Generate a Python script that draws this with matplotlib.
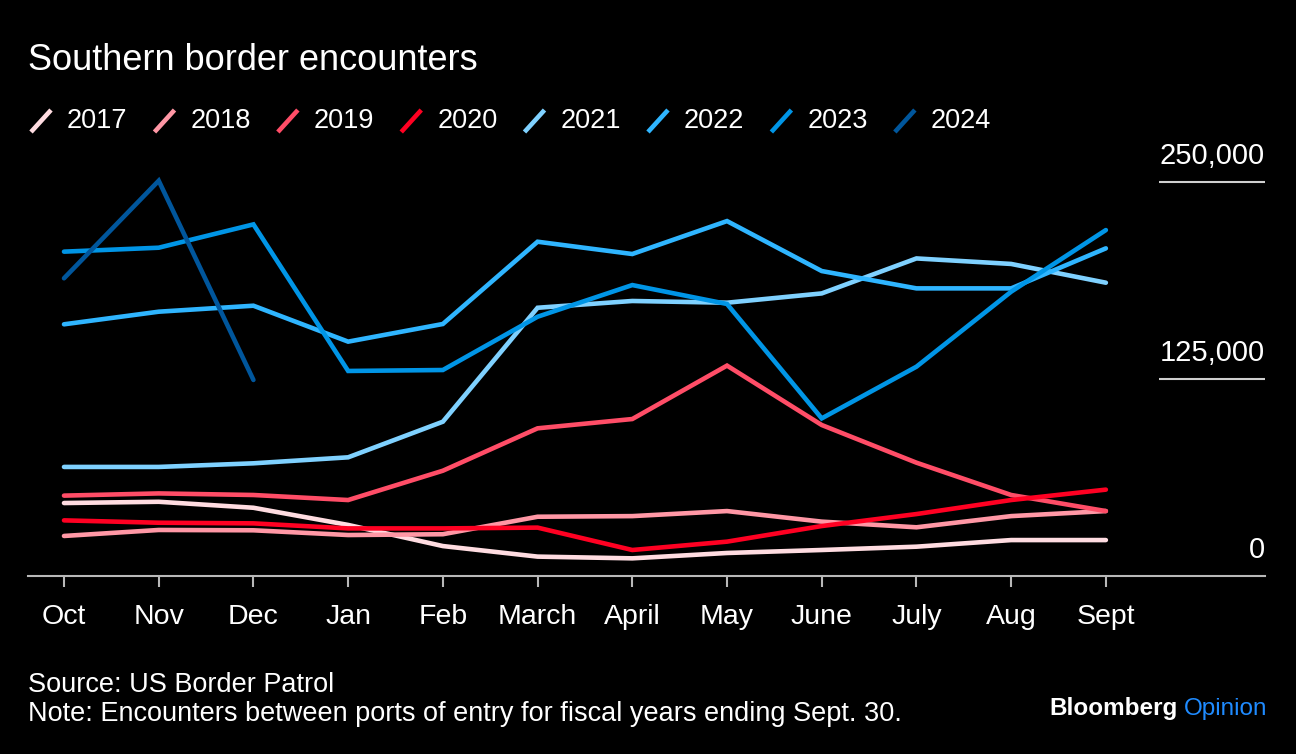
import matplotlib
matplotlib.use("Agg")
import matplotlib.pyplot as plt
from matplotlib.lines import Line2D

plt.rcParams['font.family'] = ['Liberation Sans', 'DejaVu Sans']

months = ['Oct', 'Nov', 'Dec', 'Jan', 'Feb', 'March', 'April', 'May',
          'June', 'July', 'Aug', 'Sept']

fy2017 = [46300, 47100, 43300, 32400, 19000, 12300, 11200, 14600, 16500, 18600, 22800, 22800]
fy2018 = [25400, 29200, 29000, 26000, 26500, 37600, 38000, 41200, 34500, 30900, 38000, 41200]
fy2019 = [51000, 52400, 51400, 48200, 66800, 93700, 99600, 133500, 95800, 71900, 51400, 41200]
fy2020 = [35300, 33800, 33400, 30200, 30200, 30700, 16500, 21800, 31700, 39300, 48200, 54800]
fy2021 = [69200, 69200, 71500, 75300, 97900, 170200, 174500, 173400, 179300, 201500, 198000, 186100]
fy2022 = [159700, 167700, 171500, 148700, 159900, 212100, 204300, 225200, 193500, 182500, 182500, 207900]
fy2023 = [205800, 208300, 223100, 130100, 130700, 164500, 184600, 172600, 100000, 132800, 180400, 219500]
fy2024 = [188900, 250800, 124400]

years = ['2017', '2018', '2019', '2020', '2021', '2022', '2023', '2024']
series = [fy2017, fy2018, fy2019, fy2020, fy2021, fy2022, fy2023, fy2024]
colors = ['#ffdce1', '#ff97a5', '#ff4d67', '#ff0022', '#7fd1ff', '#2fb5ff', '#0095e6', '#00569c']

yticks = [0, 125000, 250000]
ytick_labels = ['0', '125,000', '250,000']

W, H = 1296, 754
fig = plt.figure(figsize=(W / 100, H / 100), dpi=100, facecolor='black')

# axes box in pixels: x 28..1265, y(0) at 576
x_left, x_right = -0.38, 12.68
y_top = 270000
ax_h = y_top / 634.5
ax = fig.add_axes([28 / W, (H - 576) / H, (1265 - 28) / W, ax_h / H])
ax.set_facecolor('black')

x = list(range(len(months)))
for vals, c in zip(series, colors):
    ax.plot(x[:len(vals)], vals, color=c, lw=3.3, solid_capstyle='round',
            solid_joinstyle='miter', clip_on=False)

ax.set_xlim(x_left, x_right)
ax.set_ylim(0, y_top)
for s in ['top', 'right', 'left']:
    ax.spines[s].set_visible(False)
ax.spines['bottom'].set_color('#b8b8b8')
ax.spines['bottom'].set_linewidth(1.5)
ax.set_xticks(x)
ax.set_xticklabels(months, fontsize=20.5, color='white')
ax.tick_params(axis='x', length=8, width=1.5, color='#b8b8b8', pad=12.5)
ax.set_yticks([])

# right-side value labels with short gridlines
for v, lab in zip(yticks, ytick_labels):
    if v > 0:
        ax.hlines(v, 11.56, x_right, color='#cfcfcf', lw=1.5, clip_on=False)
    ax.annotate(lab, xy=(x_right, v), xytext=(0, 19), textcoords='offset points',
                ha='right', va='center', fontsize=21, color='white')

# title
fig.text(28 / W, 1 - 61 / H, 'Southern border encounters', fontsize=26,
         color='white', ha='left', va='center')

# legend
fig.canvas.draw()
renderer = fig.canvas.get_renderer()
lx = 31
ly = 121
for yr, c in zip(years, colors):
    fig.add_artist(Line2D([lx / W, (lx + 20) / W], [1 - (ly + 11) / H, 1 - (ly - 11) / H],
                          color=c, lw=3.3, solid_capstyle='butt'))
    t = fig.text((lx + 36) / W, 1 - ly / H, yr, fontsize=19.5, color='white',
                 ha='left', va='center')
    bb = t.get_window_extent(renderer)
    lx = bb.x1 + 27

# footer
fig.text(28 / W, 1 - 685 / H, 'Source: US Border Patrol', fontsize=19.5,
         color='white', ha='left', va='center')
fig.text(28 / W, 1 - 714 / H,
         'Note: Encounters between ports of entry for fiscal years ending Sept. 30.',
         fontsize=19.5, color='white', ha='left', va='center')

op = fig.text(1267 / W, 1 - 709 / H, 'Opinion', fontsize=17.5, color='#1f8bff',
              ha='right', va='center')
bb = op.get_window_extent(renderer)
fig.text((bb.x0 - 6) / W, 1 - 709 / H, 'Bloomberg', fontsize=17.5, color='white',
         fontweight='bold', ha='right', va='center')

fig.savefig('out.png', dpi=100, facecolor='black')
